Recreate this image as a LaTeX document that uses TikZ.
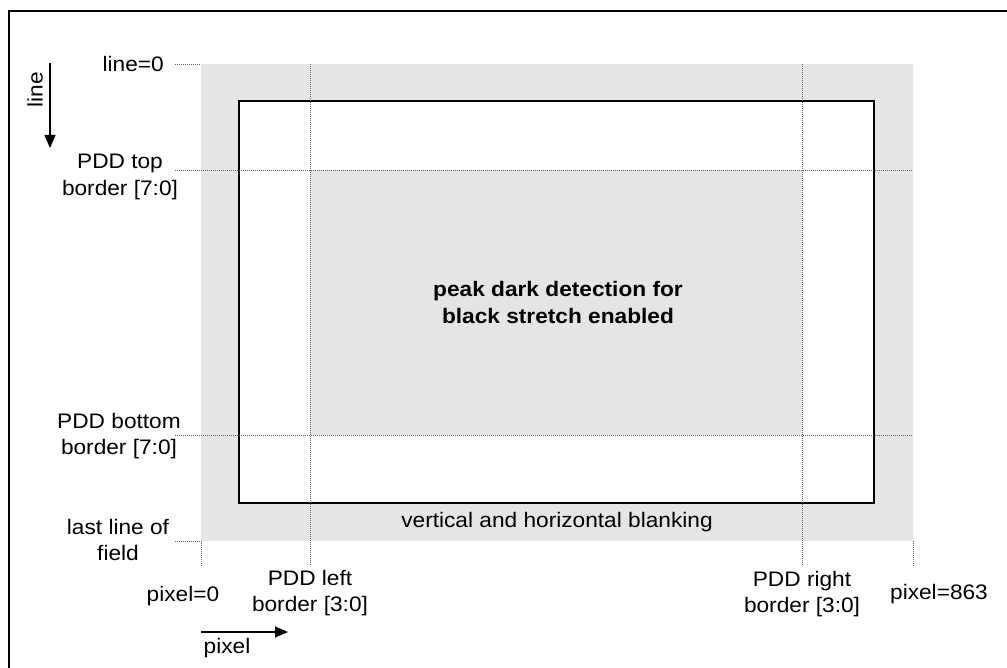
\documentclass[tikz,border=0pt]{standalone}
\usepackage{fontspec}
\setmainfont{Liberation Sans}[FakeStretch=1.08]
\usetikzlibrary{calc,positioning,arrows.meta}
\tikzset{
  guide/.style={dash pattern=on 1pt off 1pt,line width=0.8pt,black!60},
  lbl/.style={align=center,inner sep=0pt,font=\fontsize{21}{26.5}\selectfont},
  axis/.style={line width=1.2pt,-{Triangle[length=13pt,width=11pt]}}
}

\begin{document}
\begin{tikzpicture}[x=1pt,y=-1pt]
  \useasboundingbox (0,0) rectangle (1007,668);
  \draw[line width=1.2pt] (9,668) -- (9,11) -- (1007,11);
  % blanking, active area and PDD window
  \fill[black!10] (201,64) coordinate (g0) rectangle (913,541) coordinate (g1);
  \draw[fill=white,line width=1.2pt] (239,101) coordinate (w0) rectangle (874,503) coordinate (w1);
  \fill[black!10] (310,170) coordinate (p0) rectangle (802,435) coordinate (p1);
  \draw[line width=1.2pt] (w0) rectangle (w1);
  % guides
  \draw[guide] (175,64) coordinate (h0) -- (g0);
  \draw[guide] (175,170) coordinate (h1) -- (h1 -| g1);
  \draw[guide] (175,435) coordinate (h2) -- (h2 -| g1);
  \draw[guide] (175,541) coordinate (h3) -- (h3 -| g0) -- (201,566) coordinate (v0);
  \draw[guide] (p0 |- g0) -- (310,566) coordinate (v1);
  \draw[guide] (p1 |- g0) -- (802,566) coordinate (v2);
  \draw[guide] (g1) -- (913,566) coordinate (v3);
  % labels
  \node[lbl,anchor=east] (l0) at (164,64) {line=0};
  \node[lbl] (ltop) at (120,177) {PDD top\\border [7:0]};
  \node[lbl] (lbot) at (119,436) {PDD bottom\\border [7:0]};
  \node[lbl] (llast) at (118,540) {last line of\\field};
  \node[lbl] (px0) at (183,596) {pixel=0};
  \node[lbl] (pleft) at (310,593) {PDD left\\border [3:0]};
  \node[lbl] (pright) at (802,594) {PDD right\\border [3:0]};
  \node[lbl] (px863) at (939,594) {pixel=863};
  \node[lbl] (blank) at (557,522) {vertical and horizontal blanking};
  \node[lbl,font=\fontsize{21}{27}\selectfont\bfseries] (peak) at (558,302) {peak dark detection for\\black stretch enabled};
  % scan directions
  \draw[axis] (50,63) coordinate (la) -- (50,148) coordinate (lb);
  \node[lbl,rotate=90] (lname) at (35,90) {line};
  \draw[axis] (201,632) coordinate (pa) -- (288,632) coordinate (pb);
  \node[lbl] (pname) at (227,648) {pixel};
\end{tikzpicture}
\end{document}
